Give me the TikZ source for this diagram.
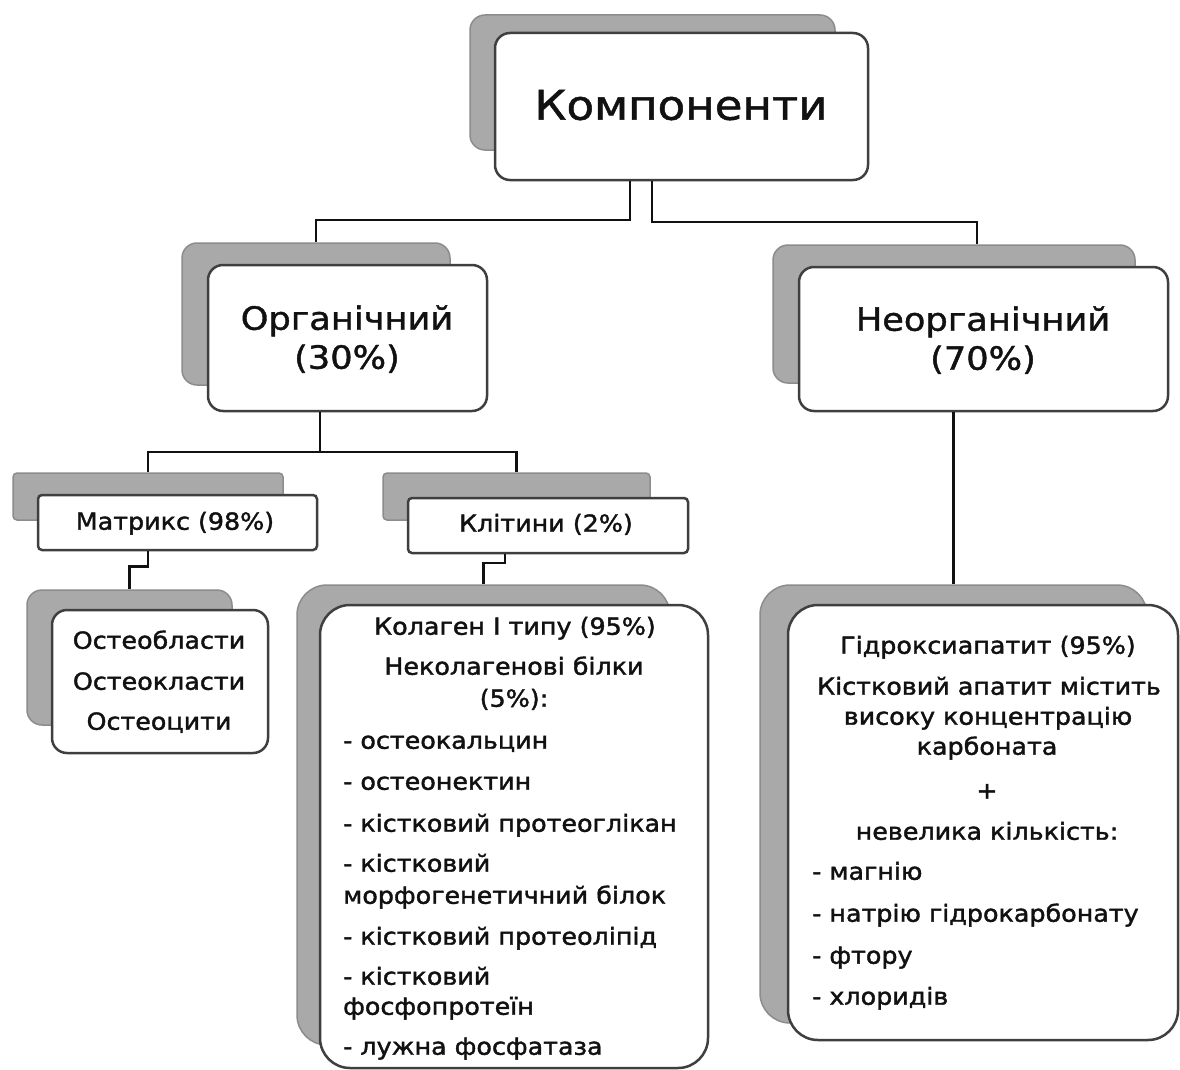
\documentclass[tikz,border=0pt]{standalone}
\usepackage{fontspec}
\setmainfont{DejaVu Sans}[FakeStretch=1.1,FakeBold=1.2]
\newfontfamily\smf{DejaVu Sans}[FakeStretch=1.08,FakeBold=1.6]
\newcommand\ftitle{\fontsize{41}{48}\selectfont}
\newcommand\fmid{\fontsize{32}{38}\selectfont}
\newcommand\fsmall{\smf\fontsize{23.5}{28}\selectfont}
\definecolor{shfill}{HTML}{A9A9A9}
\definecolor{shdraw}{HTML}{8C8C8C}
\definecolor{bord}{HTML}{3F3F3F}
\definecolor{ink}{HTML}{111111}
\begin{document}
\begin{tikzpicture}[x=1pt,y=-1pt,
  shbox/.style={draw=shdraw, fill=shfill, line width=1.5pt, rounded corners=#1, inner sep=0pt},
  shbox/.default=15pt,
  frbox/.style={draw=bord, fill=white, line width=2.5pt, rounded corners=#1, inner sep=0pt},
  frbox/.default=15pt,
  conn/.style={draw=ink, line width=2.5pt},
  ttl/.style={font=\ftitle, text=ink, inner sep=0pt, anchor=mid},
  mtxt/.style={font=\fmid, text=ink, inner sep=0pt, anchor=mid},
  stxt/.style={font=\fsmall, text=ink, inner sep=0pt, anchor=mid},
  ltxt/.style={font=\fsmall, text=ink, inner sep=0pt, anchor=mid west}]
\useasboundingbox[fill=white] (0,0) rectangle (1180,1070);

% shadows
\node[shbox, minimum width=365pt, minimum height=135pt] (kompS) at (652.5,82.5) {};
\node[shbox, minimum width=268pt, minimum height=142pt] (orgS) at (316,314) {};
\node[shbox, minimum width=362pt, minimum height=138pt] (neorgS) at (954,314) {};
\node[shbox=4pt, minimum width=270pt, minimum height=47pt] (matrS) at (148,496.5) {};
\node[shbox=4pt, minimum width=267pt, minimum height=47pt] (klitS) at (516.5,496.5) {};
\node[shbox, minimum width=205pt, minimum height=135pt] (osteoS) at (129.5,657.5) {};
\node[shbox=30pt, minimum width=373pt, minimum height=460pt] (kolS) at (483.5,815) {};
\node[shbox=30pt, minimum width=387pt, minimum height=438pt] (hydS) at (953.5,804) {};

% fronts
\node[frbox, minimum width=373pt, minimum height=147pt] (komp) at (681.5,106.5) {};
\node[frbox, minimum width=279pt, minimum height=146pt] (org) at (347.5,338) {};
\node[frbox, minimum width=369pt, minimum height=144pt] (neorg) at (983.5,339) {};
\node[frbox=4pt, minimum width=279pt, minimum height=55pt] (matr) at (177.5,522.5) {};
\node[frbox=4pt, minimum width=280pt, minimum height=55pt] (klit) at (548,525.5) {};
\node[frbox, minimum width=216pt, minimum height=143pt] (osteo) at (160,681.5) {};
\node[frbox=30pt, minimum width=388pt, minimum height=463pt] (kol) at (514,836.5) {};
\node[frbox=30pt, minimum width=390pt, minimum height=435pt] (hyd) at (983,822.5) {};

% connectors
\coordinate (j1) at (630,220);
\coordinate (j2) at (652,222);
\coordinate (n1) at (neorgS.north -| 977,0);
\draw[conn] (komp.south -| j1) -- (j1) -| (orgS.north);
\draw[conn] (komp.south -| j2) -- (j2) -| (n1);
\coordinate (j3) at (320,452);
\draw[conn] (org.south -| j3) -- (j3);
\draw[conn] (matrS.north) |- (j3) -| (klitS.north);
\draw[conn] (matr.south -| matrS.south) -- ++(0,15) -| (osteoS.north);
\coordinate (j5) at (505,563);
\draw[conn] (klit.south -| j5) -- (j5) -| (kolS.north);
\draw[conn] (neorg.south -| hydS.north) -- (hydS.north);

% texts
\node[ttl] (t1) at (681,117) {Компоненти};
\node[mtxt] (t2) at (347,327) {Органічний};
\node[mtxt] (t3) at (347,366) {(30\%)};
\node[mtxt] (t4) at (983,328) {Неорганічний};
\node[mtxt] (t5) at (983,367) {(70\%)};
\node[stxt] (t6) at (175,527) {Матрикс (98\%)};
\node[stxt] (t7) at (546,529) {Клітини (2\%)};
\node[stxt] (o1) at (159,646) {Остеобласти};
\node[stxt] (o2) at (159,687) {Остеокласти};
\node[stxt] (o3) at (159,727) {Остеоцити};

\node[stxt] (k1) at (515,632) {Колаген І типу (95\%)};
\node[stxt] (k2) at (514,672) {Неколагенові білки};
\node[stxt] (k3) at (514,704) {(5\%):};
\node[ltxt] (k4) at (343,746) {- остеокальцин};
\node[ltxt] (k5) at (343,787) {- остеонектин};
\node[ltxt] (k6) at (343,829) {- кістковий протеоглікан};
\node[ltxt] (k7) at (343,869) {- кістковий};
\node[ltxt] (k8) at (343,901) {морфогенетичний білок};
\node[ltxt] (k9) at (343,942) {- кістковий протеоліпід};
\node[ltxt] (k10) at (343,982) {- кістковий};
\node[ltxt] (k11) at (343,1012) {фосфопротеїн};
\node[ltxt] (k12) at (343,1052) {- лужна фосфатаза};

\node[stxt] (h1) at (988,651) {Гідроксиапатит (95\%)};
\node[stxt] (h2) at (989,692) {Кістковий апатит містить};
\node[stxt] (h3) at (988,722) {високу концентрацію};
\node[stxt] (h4) at (987,752) {карбоната};
\node[stxt] (h5) at (987,796) {+};
\node[stxt] (h6) at (987,837) {невелика кількість:};
\node[ltxt] (h7) at (812,877) {- магнію};
\node[ltxt] (h8) at (812,919) {- натрію гідрокарбонату};
\node[ltxt] (h9) at (812,961) {- фтору};
\node[ltxt] (h10) at (812,1002) {- хлоридів};
\end{tikzpicture}
\end{document}
